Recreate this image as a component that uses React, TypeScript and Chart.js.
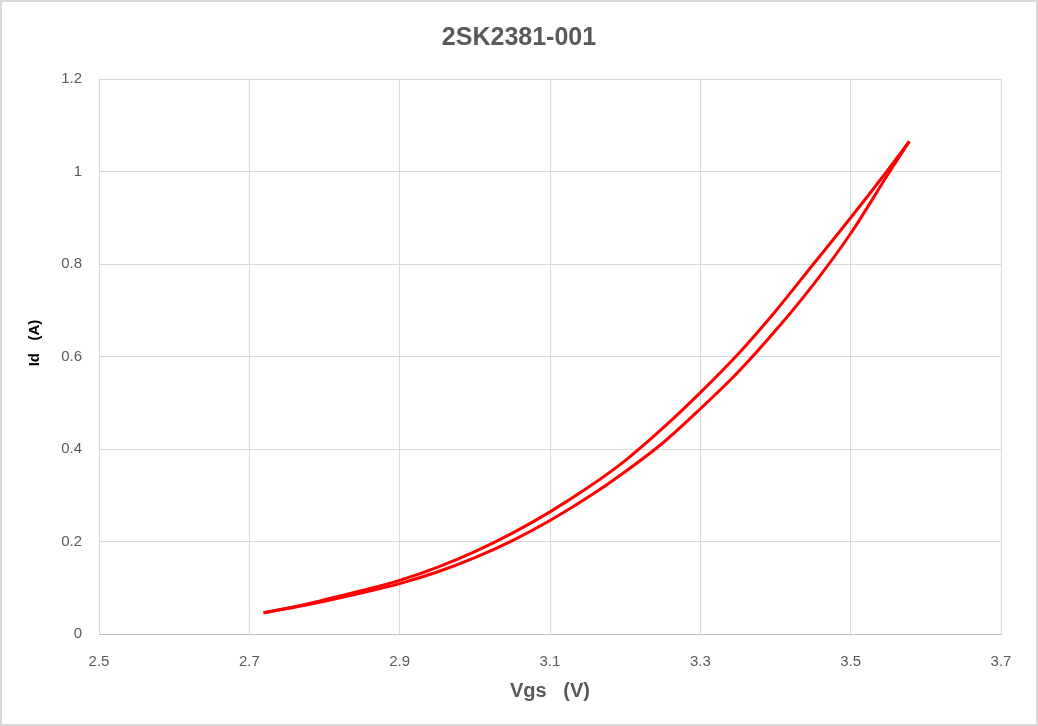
import React, { useEffect, useRef } from "react";
import { Chart, registerables } from "chart.js";

Chart.register(...registerables);

// ---- data ----
const chartTitle = "2SK2381-001";
const xAxisTitle = "Vgs   (V)";
const yAxisTitle = "Id   (A)";

const xTickValues = [2.5, 2.7, 2.9, 3.1, 3.3, 3.5, 3.7];
const yTickValues = [0, 0.2, 0.4, 0.6, 0.8, 1.0, 1.2];

// upper (left) branch of the hysteresis loop
const upperVgs = [2.719, 2.76, 2.8, 2.85, 2.9, 2.95, 3.0, 3.05, 3.1, 3.15, 3.2, 3.25, 3.3, 3.35, 3.4, 3.45, 3.5, 3.548, 3.578];
const upperId = [0.046, 0.059, 0.074, 0.094, 0.116, 0.144, 0.178, 0.218, 0.264, 0.316, 0.375, 0.445, 0.522, 0.605, 0.698, 0.799, 0.9, 1.0, 1.065];

// lower (right) branch of the hysteresis loop
const lowerVgs = [2.719, 2.76, 2.8, 2.85, 2.9, 2.95, 3.0, 3.05, 3.1, 3.15, 3.2, 3.25, 3.3, 3.35, 3.4, 3.45, 3.5, 3.552, 3.578];
const lowerId = [0.046, 0.058, 0.071, 0.089, 0.109, 0.134, 0.165, 0.202, 0.2455, 0.295, 0.351, 0.413, 0.487, 0.566, 0.656, 0.755, 0.866, 1.0, 1.065];

const toPoints = (xs: number[], ys: number[]) => xs.map((x, i) => ({ x, y: ys[i] }));

const fmt = (v: number) => String(parseFloat(Number(v).toFixed(1)));

const FONT = "'Liberation Sans', Arial, sans-serif";

// draws the vertical axis title beside the y axis
const yTitlePlugin = {
  id: "yTitle",
  afterDraw(chart: any) {
    const ctx = chart.ctx;
    ctx.save();
    ctx.translate(33, 341);
    ctx.rotate(-Math.PI / 2);
    ctx.font = `bold 15px ${FONT}`;
    ctx.fillStyle = "#000000";
    ctx.textAlign = "center";
    ctx.textBaseline = "middle";
    ctx.fillText(yAxisTitle, 0, 0);
    ctx.restore();
  },
};

export default function App() {
  const ref = useRef<HTMLCanvasElement | null>(null);

  useEffect(() => {
    if (!ref.current) return;
    const lineStyle = {
      showLine: true,
      pointRadius: 0,
      borderWidth: 3,
      borderColor: "#ff0000",
      backgroundColor: "#ff0000",
      cubicInterpolationMode: "monotone" as const,
      fill: false,
    };
    const chart = new Chart(ref.current, {
      type: "scatter",
      data: {
        datasets: [
          { label: "up", data: toPoints(upperVgs, upperId), ...lineStyle },
          { label: "down", data: toPoints(lowerVgs, lowerId), ...lineStyle },
        ],
      },
      plugins: [yTitlePlugin],
      options: {
        responsive: false,
        animation: false,
        layout: { padding: 0 },
        plugins: {
          legend: { display: false },
          tooltip: { enabled: false },
          title: {
            display: true,
            text: chartTitle,
            color: "#595959",
            font: { family: FONT, size: 25, weight: "bold" },
            padding: { top: 21, bottom: 26 },
          },
        },
        scales: {
          x: {
            type: "linear",
            min: 2.5,
            max: 3.7,
            afterBuildTicks: (scale: any) => {
              scale.ticks = xTickValues.map((v) => ({ value: v }));
            },
            afterFit: (scale: any) => {
              scale.height = 90;
            },
            grid: { color: "#d9d9d9", drawTicks: false, lineWidth: 1 },
            border: { display: true, color: "#bfbfbf", width: 1 },
            ticks: {
              color: "#595959",
              font: { family: FONT, size: 15 },
              padding: 19,
              maxRotation: 0,
              callback: (v: any) => fmt(v),
            },
            title: {
              display: true,
              text: xAxisTitle,
              color: "#595959",
              font: { family: FONT, size: 20, weight: "bold" },
              padding: { top: 0, bottom: 21 },
            },
          },
          y: {
            type: "linear",
            min: 0,
            max: 1.2,
            afterBuildTicks: (scale: any) => {
              scale.ticks = yTickValues.map((v) => ({ value: v }));
            },
            afterFit: (scale: any) => {
              scale.width = 97;
            },
            grid: { color: "#d9d9d9", drawTicks: false, lineWidth: 1 },
            border: { display: false },
            ticks: {
              color: "#595959",
              font: { family: FONT, size: 15 },
              padding: 17,
              callback: (v: any) => fmt(v),
            },
            title: { display: false },
          },
          // empty right-hand margin so the title stays centred on the whole picture
          margin: {
            type: "linear",
            position: "right",
            display: true,
            min: 0,
            max: 1,
            grid: { display: false },
            border: { display: false },
            ticks: { display: false },
            afterFit: (scale: any) => {
              scale.width = 35;
            },
          },
        },
      },
    });
    return () => chart.destroy();
  }, []);

  return (
    <div
      style={{
        position: "fixed",
        left: 0,
        top: 0,
        width: 1038,
        height: 726,
        boxSizing: "border-box",
        border: "2px solid #d9d9d9",
        background: "#ffffff",
      }}
    >
      <canvas ref={ref} width={1034} height={722} style={{ display: "block", width: 1034, height: 722 }} />
    </div>
  );
}
